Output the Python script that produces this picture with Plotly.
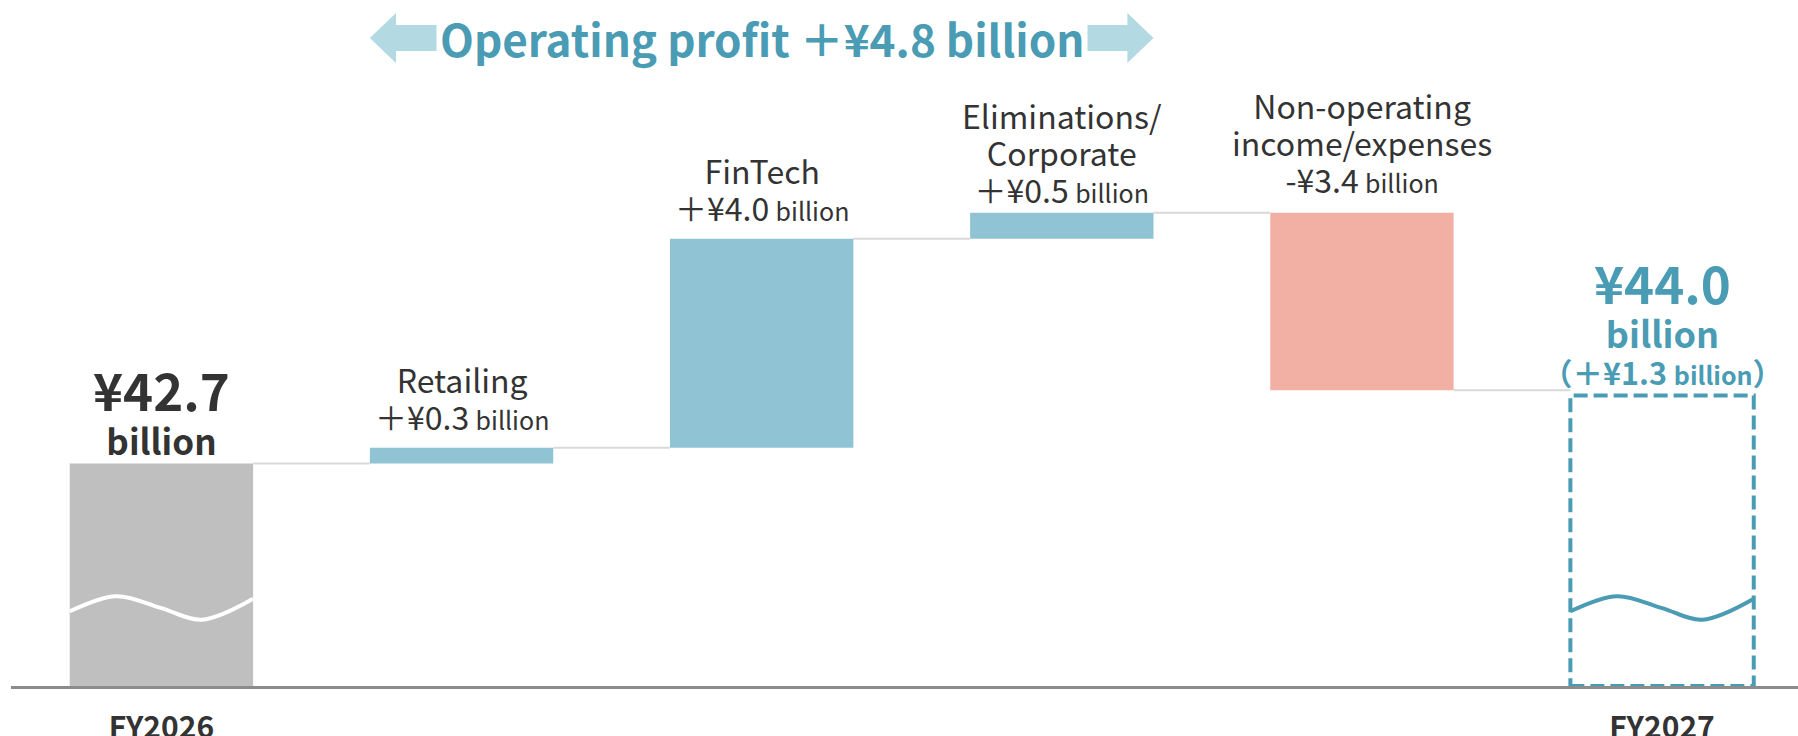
import plotly.graph_objects as go

# data (¥ billion)
categories = ["FY2026", "Retailing", "FinTech", "Eliminations/Corporate",
              "Non-operating income/expenses", "FY2027"]
start_value = 42.7
change_names = ["Retailing", "FinTech", "Eliminations/<br>Corporate",
                "Non-operating<br>income/expenses"]
change_values = [0.3, 4.0, 0.5, -3.4]
end_value = 44.0
end_diff = 1.3
operating_profit_change = 4.8
tick_labels = ["FY2026", "FY2027"]

FONT = "Noto Sans CJK JP"
TEXT = "#333333"
TEAL = "#4a9bb4"
BLUE = "#90c3d3"
SALMON = "#f2b0a5"
GREY = "#bfbfbf"
ARROW = "#b3d9e3"
BAR_W = 0.611
HALF = BAR_W / 2
Y0 = 38.44
label_shift = [7, 7, -1, 9]  # px above each change bar

# running totals for the waterfall
levels = [start_value]
for v in change_values:
    levels.append(round(levels[-1] + v, 2))

x_pos = list(range(len(categories)))
bar_base = [0] + [min(levels[i], levels[i + 1]) for i in range(len(change_values))]
bar_len = [start_value] + [abs(v) for v in change_values]
bar_col = [GREY] + [BLUE if v > 0 else SALMON for v in change_values]

fig = go.Figure()
fig.add_trace(go.Bar(x=x_pos[:5], y=bar_len, base=bar_base, width=BAR_W,
                     marker=dict(color=bar_col, line=dict(width=0)),
                     hoverinfo="skip", showlegend=False))

# axis-break waves on the first and last column
wave_frac = [0, 0.255, 0.5, 0.72, 1]
wave_off = [-0.06, 0.23, 0, -0.22, 0.18]
break_level = 39.93
for xi, col, lw in [(0, "white", 4), (5, TEAL, 4)]:
    fig.add_trace(go.Scatter(
        x=[xi - HALF + f * BAR_W for f in wave_frac],
        y=[break_level + o for o in wave_off],
        mode="lines", line=dict(color=col, width=lw, shape="spline"),
        hoverinfo="skip", showlegend=False))

shapes = []
# connectors
for i in range(len(levels)):
    shapes.append(dict(type="line", xref="x", yref="y", layer="below",
                       x0=i + HALF, x1=i + 1 - HALF, y0=levels[i], y1=levels[i],
                       line=dict(color="#d9d9d9", width=2)))
# dashed FY2027 box
shapes.append(dict(type="rect", xref="x", yref="y", x0=5 - HALF, x1=5 + HALF,
                   y0=Y0, y1=end_value, line=dict(color=TEAL, width=4, dash="14px,6px")))

# double arrow behind the headline
ax0, ax1 = 1 - HALF, 3 + HALF
hl = 0.087
yc, sh, hh = 0.9446, 0.019, 0.0364
path = (f"M {ax0},{yc} L {ax0 + hl},{yc + hh} L {ax0 + hl},{yc + sh} "
        f"L {ax1 - hl},{yc + sh} L {ax1 - hl},{yc + hh} L {ax1},{yc} "
        f"L {ax1 - hl},{yc - hh} L {ax1 - hl},{yc - sh} L {ax0 + hl},{yc - sh} "
        f"L {ax0 + hl},{yc - hh} Z")
shapes.append(dict(type="path", xref="x", yref="paper", path=path,
                   fillcolor=ARROW, line=dict(width=0), layer="below"))

annotations = [dict(
    x=2, y=yc, xref="x", yref="paper", yanchor="middle", showarrow=False,
    text=f"<b>Operating profit ＋¥{operating_profit_change:.1f} billion</b>",
    font=dict(family=FONT, size=44, color=TEAL), bgcolor="white", borderpad=3)]


def money(v):
    sign = "＋" if v > 0 else "-"
    return (f"<span style='font-size:32px'>{sign}¥{abs(v):.1f}</span> "
            "<span style='font-size:25px'>billion</span>")


for i, (name, v) in enumerate(zip(change_names, change_values)):
    lines = "<br>".join(f"<span style='font-size:32px'>{t}</span>" for t in name.split("<br>"))
    annotations.append(dict(
        x=i + 1, y=max(levels[i], levels[i + 1]), xref="x", yref="y",
        yanchor="bottom", yshift=label_shift[i], showarrow=False,
        text=f"{lines}<br>{money(v)}",
        font=dict(family=FONT, size=28.5, color=TEXT)))

annotations.append(dict(
    x=0, y=start_value, xref="x", yref="y", yanchor="bottom", yshift=-4, showarrow=False,
    text=(f"<b><span style='font-size:51px'>¥{start_value:.1f}</span><br>"
          "<span style='font-size:35px'>billion</span></b>"),
    font=dict(family=FONT, size=33.5, color=TEXT)))
annotations.append(dict(
    x=5, y=end_value, xref="x", yref="y", yanchor="bottom", yshift=36, showarrow=False,
    text=(f"<b><span style='font-size:51px'>¥{end_value:.1f}</span><br>"
          "<span style='font-size:36px'>billion</span></b>"),
    font=dict(family=FONT, size=33.5, color=TEAL)))
annotations.append(dict(
    x=5, y=end_value, xref="x", yref="y", yanchor="bottom", yshift=0, showarrow=False,
    text=(f"<b>（＋¥{end_diff:.1f} <span style='font-size:25px'>billion</span>）</b>"),
    font=dict(family=FONT, size=30.5, color=TEAL)))

fig.update_layout(
    width=1798, height=736,
    margin=dict(l=11, r=0, t=0, b=50),
    plot_bgcolor="white", paper_bgcolor="white",
    shapes=shapes, annotations=annotations,
    xaxis=dict(range=[-0.5012, 5.4529], showgrid=False, zeroline=False,
               showline=True, linecolor="#8c8c8c", linewidth=3, automargin=False,
               tickvals=[0, 5], ticktext=[f"<b>{t}</b>" for t in tick_labels],
               tickfont=dict(family=FONT, size=30, color=TEXT), ticklabelstandoff=13),
    yaxis=dict(range=[Y0, 51.57], visible=False, automargin=False),
)

fig.write_html("out.html", config={"displayModeBar": False},
               post_script="document.body.style.margin='0';document.body.style.overflow='hidden';")
